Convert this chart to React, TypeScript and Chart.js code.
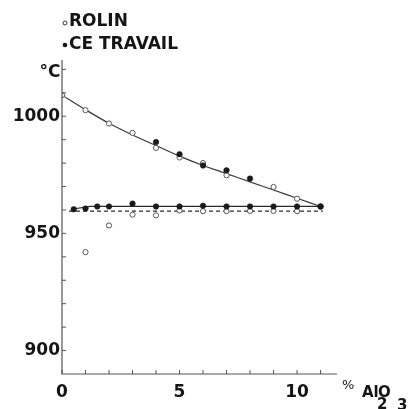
import React, { useEffect, useRef } from "react";
import { Chart, registerables } from "chart.js";

Chart.register(...registerables);

const seriesNames = ["ROLIN", "CE TRAVAIL"];

// ROLIN (open circles)
const rolinUpperX = [0, 1, 2, 3, 4, 5, 6, 7, 9, 10];
const rolinUpperY = [1009, 1002.6, 996.9, 992.9, 986.5, 982.4, 980, 974.8, 969.8, 964.8];
const rolinLowerX = [1, 2, 3, 4, 5, 6, 7, 8, 9, 10];
const rolinLowerY = [942, 953.4, 958, 957.7, 959.8, 959.5, 959.5, 959.6, 959.6, 959.5];

// CE TRAVAIL (filled dots)
const travailUpperX = [4, 5, 6, 7, 8, 11];
const travailUpperY = [989, 983.8, 979, 976.9, 973.4, 961.5];
const travailLowerX = [0.5, 1, 1.5, 2, 3, 4, 5, 6, 7, 8, 9, 10, 11];
const travailLowerY = [960.3, 960.6, 961.5, 961.5, 962.7, 961.5, 961.5, 961.8, 961.5, 961.5, 961.5, 961.5, 961.5];

// Drawn curves
const upperCurveX = [0, 1, 2, 3, 4, 5, 6, 7, 8, 9, 10, 11];
const upperCurveY = [1009, 1002.8, 997, 992, 987.5, 983, 979, 975.5, 972, 968.5, 965, 961.5];
const solidLowerX = [0.4, 1.2, 11];
const solidLowerY = [960.3, 961.5, 961.5];
const dashedLowerX = [0.3, 11.1];
const dashedLowerY = [959.5, 959.5];

const xTickValues = [0, 1, 2, 3, 4, 5, 6, 7, 8, 9, 10, 11];
const xLabelValues = [0, 5, 10];
const yTickValues = [900, 910, 920, 930, 940, 950, 960, 970, 980, 990, 1000, 1010, 1020];
const yLabelValues = [900, 950, 1000];

const xMin = 0;
const xMax = 11.7;
const yMin = 890;
const yMax = 1024;

const pts = (xs: number[], ys: number[]) => xs.map((x, i) => ({ x, y: ys[i] }));

const FONT = "DejaVu Sans";
const INK = "#151515";
const AXIS = "#555";

const decorPlugin = {
  id: "decor",
  afterDraw(chart: any) {
    const ctx = chart.ctx;
    const xs = chart.scales.x;
    const ys = chart.scales.y;
    const left = xs.getPixelForValue(xMin);
    const right = xs.getPixelForValue(xMax);
    const bottom = ys.getPixelForValue(yMin);
    const top = ys.getPixelForValue(yMax);
    ctx.save();
    ctx.strokeStyle = AXIS;
    ctx.lineWidth = 1.2;
    ctx.beginPath();
    ctx.moveTo(left, top);
    ctx.lineTo(left, bottom);
    ctx.lineTo(right, bottom);
    ctx.stroke();
    ctx.lineWidth = 1;
    ctx.beginPath();
    xTickValues.forEach((v) => {
      const px = xs.getPixelForValue(v);
      ctx.moveTo(px, bottom);
      ctx.lineTo(px, bottom - 4);
    });
    yTickValues.forEach((v) => {
      const py = ys.getPixelForValue(v);
      ctx.moveTo(left, py);
      ctx.lineTo(left + 4, py);
    });
    ctx.stroke();

    // unit label
    ctx.fillStyle = INK;
    ctx.font = `bold 17px "${FONT}"`;
    ctx.textAlign = "center";
    ctx.textBaseline = "middle";
    ctx.fillText("°C", 50, 73);

    // x axis title % Al2O3
    ctx.textAlign = "left";
    ctx.textBaseline = "alphabetic";
    ctx.font = `13px "${FONT}"`;
    ctx.fillText("%", 342, 389);
    ctx.font = `600 15px "${FONT}"`;
    ctx.fillText("Al", 362, 397);
    ctx.fillText("O", 378, 397);
    ctx.fillText("2", 377, 409);
    ctx.fillText("3", 397, 410);

    // legend
    ctx.font = `bold 17px "${FONT}"`;
    ctx.textBaseline = "middle";
    ctx.strokeStyle = "#333";
    ctx.lineWidth = 1;
    ctx.beginPath();
    ctx.arc(65, 23, 2, 0, Math.PI * 2);
    ctx.stroke();
    ctx.fillText(seriesNames[0], 69, 22);
    ctx.beginPath();
    ctx.arc(65, 45, 2.3, 0, Math.PI * 2);
    ctx.fill();
    ctx.fillText(seriesNames[1], 69, 45);
    ctx.restore();
  },
};

export default function App() {
  const ref = useRef<HTMLCanvasElement | null>(null);
  useEffect(() => {
    if (!ref.current) return;
    const openPt = {
      showLine: false,
      pointRadius: 2.6,
      pointBackgroundColor: "#fff",
      pointBorderColor: "#555",
      pointBorderWidth: 1,
    };
    const fillPt = {
      showLine: false,
      pointRadius: 2.8,
      pointBackgroundColor: "#1a1a1a",
      pointBorderColor: "#1a1a1a",
      pointBorderWidth: 0.5,
    };
    const chart = new Chart(ref.current, {
      type: "scatter",
      data: {
        datasets: [
          { label: "curve", data: pts(upperCurveX, upperCurveY), showLine: true, tension: 0.4, borderColor: "#3a3a3a", borderWidth: 1.2, pointRadius: 0, order: 5 },
          { label: "solid", data: pts(solidLowerX, solidLowerY), showLine: true, tension: 0, borderColor: "#2a2a2a", borderWidth: 1.2, pointRadius: 0, order: 5 },
          { label: "dashed", data: pts(dashedLowerX, dashedLowerY), showLine: true, tension: 0, borderColor: "#2a2a2a", borderWidth: 1.2, borderDash: [4, 3], pointRadius: 0, order: 5 },
          { label: seriesNames[0], data: pts(rolinUpperX, rolinUpperY), ...openPt, order: 1 },
          { label: seriesNames[0], data: pts(rolinLowerX, rolinLowerY), ...openPt, order: 1 },
          { label: seriesNames[1], data: pts(travailUpperX, travailUpperY), ...fillPt, order: 0 },
          { label: seriesNames[1], data: pts(travailLowerX, travailLowerY), ...fillPt, order: 0 },
        ],
      },
      options: {
        animation: false,
        responsive: false,
        maintainAspectRatio: false,
        layout: { padding: { top: 60, right: 75, left: 0, bottom: 0 } },
        plugins: { legend: { display: false }, tooltip: { enabled: false } },
        scales: {
          x: {
            type: "linear",
            min: xMin,
            max: xMax,
            border: { display: false },
            grid: { display: false, drawTicks: false },
            afterBuildTicks: (s: any) => {
              s.ticks = xTickValues.map((v) => ({ value: v }));
            },
            afterFit: (s: any) => {
              s.height = 35;
            },
            ticks: {
              autoSkip: false,
              maxRotation: 0,
              padding: 8,
              color: INK,
              font: { family: FONT, size: 17, weight: "bold" },
              callback: (v: any) => (xLabelValues.includes(Number(v)) ? String(v) : ""),
            },
          },
          y: {
            type: "linear",
            min: yMin,
            max: yMax,
            border: { display: false },
            grid: { display: false, drawTicks: false },
            afterBuildTicks: (s: any) => {
              s.ticks = yTickValues.map((v) => ({ value: v }));
            },
            afterFit: (s: any) => {
              s.width = 62;
            },
            ticks: {
              autoSkip: false,
              padding: 2,
              color: INK,
              font: { family: FONT, size: 17, weight: "bold" },
              callback: (v: any) => (yLabelValues.includes(Number(v)) ? String(v) : ""),
            },
          },
        },
      },
      plugins: [decorPlugin],
    } as any);
    return () => chart.destroy();
  }, []);
  return (
    <div style={{ position: "fixed", left: 0, top: 0, width: 412, height: 409, background: "#fff" }}>
      <canvas ref={ref} width={412} height={409} style={{ width: 412, height: 409 }} />
    </div>
  );
}
